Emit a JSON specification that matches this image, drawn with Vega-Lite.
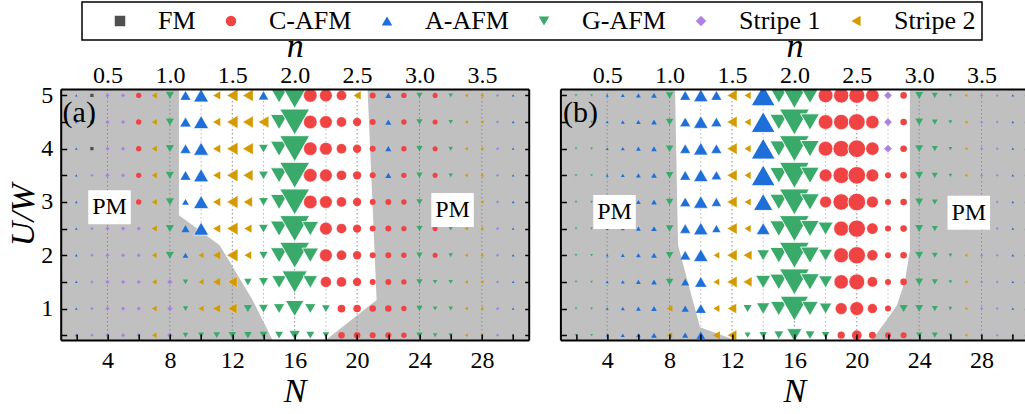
{
"$schema": "https://vega.github.io/schema/vega-lite/v6.json",
"autosize": {"type": "none"},
"padding": {"left": 60.7, "top": 89, "right": 964.3, "bottom": 325},
"bounds": "flush",
"spacing": 31.7,
"config": {
  "font": "Liberation Serif",
  "view": {"fill": "#c0c0c0", "stroke": null},
  "axis": {"labelFont": "Liberation Serif", "titleFont": "Liberation Serif", "labelFontSize": 24, "titleFontSize": 34, "titleFontWeight": "normal", "titleFontStyle": "italic", "labelColor": "black", "titleColor": "black", "domainColor": "black", "tickColor": "black", "grid": false, "domainWidth": 2, "tickWidth": 1.5},
  "legend": {"orient": "none", "legendX": 21.3, "legendY": -87, "direction": "horizontal", "strokeColor": "black", "strokeWidth": 1.5, "padding": 6, "labelFont": "Liberation Serif", "labelFontSize": 26, "labelColor": "black", "labelOffset": 25, "columnPadding": 3, "symbolOffset": 19, "symbolSize": 110, "symbolStrokeWidth": 0}
},
"resolve": {"scale": {"color": "shared", "shape": "shared", "size": "shared", "strokeWidth": "shared"}, "legend": {"color": "shared", "shape": "shared"}},
"datasets": {
  "white": [
    {"p":"a","U":0.41,"L":14.58,"R":18.0},{"p":"a","U":1.16,"L":13.3,"R":21.25},{"p":"a","U":2.19,"L":11.19,"R":21.1},{"p":"a","U":2.75,"L":8.58,"R":21.02},{"p":"a","U":5.12,"L":8.58,"R":20.67},
    {"p":"b","U":0.41,"L":12.19,"R":20.97},{"p":"b","U":0.65,"L":9.95,"R":21.57},{"p":"b","U":0.74,"L":9.87,"R":21.8},{"p":"b","U":1.06,"L":9.57,"R":22.57},{"p":"b","U":1.53,"L":9.14,"R":23.1},{"p":"b","U":2.09,"L":8.63,"R":23.4},{"p":"b","U":2.19,"L":8.54,"R":23.4},{"p":"b","U":5.12,"L":8.35,"R":23.4}
  ],
  "grid": [
    {"n":0.25,"kind":"minor"},{"n":0.5,"kind":"major"},{"n":0.75,"kind":"minor"},{"n":1,"kind":"major"},{"n":1.25,"kind":"minor"},{"n":1.5,"kind":"major"},{"n":1.75,"kind":"minor"},{"n":2,"kind":"major"},{"n":2.25,"kind":"minor"},{"n":2.5,"kind":"major"},{"n":2.75,"kind":"minor"},{"n":3,"kind":"major"},{"n":3.25,"kind":"minor"},{"n":3.5,"kind":"major"},{"n":3.75,"kind":"minor"}
  ],
  "pm": [
    {"p":"a","N":4.13,"U":2.9,"label":"PM"},{"p":"a","N":26.12,"U":2.85,"label":"PM"},{"p":"b","N":4.47,"U":2.81,"label":"PM"},{"p":"b","N":27.18,"U":2.8,"label":"PM"}
  ],
  "tags": [
    {"p":"a","N":1.12,"U":4.67,"label":"(a)"},{"p":"b","N":1.17,"U":4.67,"label":"(b)"}
  ],
  "ptsA": [
{"U":5,"N":2,"ph":"A-AFM","m":0.9},{"U":5,"N":3,"ph":"FM","m":1.1},{"U":5,"N":4,"ph":"Stripe 1","m":1.4},{"U":5,"N":5,"ph":"Stripe 1","m":1.4},{"U":5,"N":6,"ph":"C-AFM","m":1.8},{"U":5,"N":7,"ph":"Stripe 2","m":2},{"U":5,"N":8,"ph":"G-AFM","m":2.8},{"U":5,"N":9,"ph":"A-AFM","m":3.5},{"U":5,"N":10,"ph":"A-AFM","m":5},{"U":5,"N":11,"ph":"Stripe 2","m":2.8},{"U":5,"N":12,"ph":"Stripe 2","m":4.3},{"U":5,"N":13,"ph":"Stripe 2","m":4},{"U":5,"N":14,"ph":"A-AFM","m":3.3},{"U":5,"N":15,"ph":"G-AFM","m":5.8},{"U":5,"N":16,"ph":"G-AFM","m":10},{"U":5,"N":17,"ph":"C-AFM","m":4.5},{"U":5,"N":18,"ph":"C-AFM","m":4.2},{"U":5,"N":19,"ph":"C-AFM","m":3.3},{"U":5,"N":20,"ph":"Stripe 2","m":2.8},{"U":5,"N":21,"ph":"C-AFM","m":2},{"U":5,"N":22,"ph":"A-AFM","m":2},{"U":5,"N":23,"ph":"C-AFM","m":1.8},{"U":5,"N":24,"ph":"G-AFM","m":2.1},{"U":5,"N":25,"ph":"C-AFM","m":1.7},{"U":5,"N":26,"ph":"G-AFM","m":1.5},{"U":5,"N":27,"ph":"Stripe 2","m":1.2},{"U":5,"N":28,"ph":"Stripe 2","m":1.2},{"U":5,"N":29,"ph":"Stripe 1","m":1.1},{"U":5,"N":30,"ph":"A-AFM","m":0.9},
{"U":4.5,"N":2,"ph":"A-AFM","m":0.9},{"U":4.5,"N":3,"ph":"FM","m":1.1},{"U":4.5,"N":4,"ph":"Stripe 1","m":1.4},{"U":4.5,"N":5,"ph":"Stripe 1","m":1.4},{"U":4.5,"N":6,"ph":"C-AFM","m":1.8},{"U":4.5,"N":7,"ph":"Stripe 2","m":2},{"U":4.5,"N":8,"ph":"G-AFM","m":2.8},{"U":4.5,"N":9,"ph":"A-AFM","m":3.7},{"U":4.5,"N":10,"ph":"A-AFM","m":5},{"U":4.5,"N":11,"ph":"Stripe 2","m":2.8},{"U":4.5,"N":12,"ph":"Stripe 2","m":4.3},{"U":4.5,"N":13,"ph":"Stripe 2","m":4},{"U":4.5,"N":14,"ph":"Stripe 2","m":4},{"U":4.5,"N":15,"ph":"G-AFM","m":5.8},{"U":4.5,"N":16,"ph":"G-AFM","m":10},{"U":4.5,"N":17,"ph":"C-AFM","m":4.5},{"U":4.5,"N":18,"ph":"C-AFM","m":4.2},{"U":4.5,"N":19,"ph":"C-AFM","m":3.3},{"U":4.5,"N":20,"ph":"C-AFM","m":2.8},{"U":4.5,"N":21,"ph":"C-AFM","m":2},{"U":4.5,"N":22,"ph":"A-AFM","m":2},{"U":4.5,"N":23,"ph":"C-AFM","m":1.8},{"U":4.5,"N":24,"ph":"G-AFM","m":2.1},{"U":4.5,"N":25,"ph":"C-AFM","m":1.7},{"U":4.5,"N":26,"ph":"G-AFM","m":1.5},{"U":4.5,"N":27,"ph":"Stripe 2","m":1.2},{"U":4.5,"N":28,"ph":"Stripe 2","m":1.2},{"U":4.5,"N":29,"ph":"Stripe 1","m":1.1},{"U":4.5,"N":30,"ph":"A-AFM","m":0.9},
{"U":4,"N":2,"ph":"A-AFM","m":0.9},{"U":4,"N":3,"ph":"FM","m":1.1},{"U":4,"N":4,"ph":"Stripe 1","m":1.4},{"U":4,"N":5,"ph":"Stripe 1","m":1.4},{"U":4,"N":6,"ph":"C-AFM","m":1.8},{"U":4,"N":7,"ph":"Stripe 2","m":2},{"U":4,"N":8,"ph":"G-AFM","m":2.8},{"U":4,"N":9,"ph":"A-AFM","m":3.5},{"U":4,"N":10,"ph":"A-AFM","m":5},{"U":4,"N":11,"ph":"Stripe 2","m":2.8},{"U":4,"N":12,"ph":"Stripe 2","m":4.3},{"U":4,"N":13,"ph":"Stripe 2","m":4},{"U":4,"N":14,"ph":"G-AFM","m":3},{"U":4,"N":15,"ph":"G-AFM","m":5.8},{"U":4,"N":16,"ph":"G-AFM","m":10},{"U":4,"N":17,"ph":"C-AFM","m":4.5},{"U":4,"N":18,"ph":"C-AFM","m":4.2},{"U":4,"N":19,"ph":"C-AFM","m":3.3},{"U":4,"N":20,"ph":"C-AFM","m":2.8},{"U":4,"N":21,"ph":"C-AFM","m":2},{"U":4,"N":22,"ph":"A-AFM","m":2},{"U":4,"N":23,"ph":"C-AFM","m":1.8},{"U":4,"N":24,"ph":"G-AFM","m":2.1},{"U":4,"N":25,"ph":"C-AFM","m":1.7},{"U":4,"N":26,"ph":"G-AFM","m":1.5},{"U":4,"N":27,"ph":"Stripe 2","m":1.2},{"U":4,"N":28,"ph":"Stripe 2","m":1.2},{"U":4,"N":29,"ph":"Stripe 1","m":1.1},{"U":4,"N":30,"ph":"A-AFM","m":0.9},
{"U":3.5,"N":2,"ph":"A-AFM","m":0.9},{"U":3.5,"N":3,"ph":"Stripe 1","m":1.1},{"U":3.5,"N":4,"ph":"Stripe 1","m":1.4},{"U":3.5,"N":5,"ph":"Stripe 1","m":1.4},{"U":3.5,"N":6,"ph":"C-AFM","m":1.8},{"U":3.5,"N":7,"ph":"Stripe 2","m":2},{"U":3.5,"N":8,"ph":"G-AFM","m":2.8},{"U":3.5,"N":9,"ph":"A-AFM","m":3.5},{"U":3.5,"N":10,"ph":"A-AFM","m":5},{"U":3.5,"N":11,"ph":"Stripe 2","m":2.8},{"U":3.5,"N":12,"ph":"Stripe 2","m":4.3},{"U":3.5,"N":13,"ph":"Stripe 2","m":3.8},{"U":3.5,"N":14,"ph":"G-AFM","m":3},{"U":3.5,"N":15,"ph":"G-AFM","m":5.8},{"U":3.5,"N":16,"ph":"G-AFM","m":10},{"U":3.5,"N":17,"ph":"C-AFM","m":4.5},{"U":3.5,"N":18,"ph":"C-AFM","m":4.2},{"U":3.5,"N":19,"ph":"C-AFM","m":3.3},{"U":3.5,"N":20,"ph":"C-AFM","m":2.8},{"U":3.5,"N":21,"ph":"C-AFM","m":2},{"U":3.5,"N":22,"ph":"A-AFM","m":2},{"U":3.5,"N":23,"ph":"C-AFM","m":1.8},{"U":3.5,"N":24,"ph":"G-AFM","m":2.1},{"U":3.5,"N":25,"ph":"C-AFM","m":1.7},{"U":3.5,"N":26,"ph":"G-AFM","m":1.5},{"U":3.5,"N":27,"ph":"Stripe 2","m":1.2},{"U":3.5,"N":28,"ph":"Stripe 2","m":1.2},{"U":3.5,"N":29,"ph":"Stripe 1","m":1.1},{"U":3.5,"N":30,"ph":"A-AFM","m":0.9},
{"U":3,"N":2,"ph":"A-AFM","m":0.9},{"U":3,"N":3,"ph":"Stripe 1","m":1.1},{"U":3,"N":4,"ph":"Stripe 1","m":1.4},{"U":3,"N":5,"ph":"Stripe 1","m":1.4},{"U":3,"N":6,"ph":"C-AFM","m":1.8},{"U":3,"N":7,"ph":"Stripe 2","m":2},{"U":3,"N":8,"ph":"G-AFM","m":2.8},{"U":3,"N":9,"ph":"A-AFM","m":2.2},{"U":3,"N":10,"ph":"A-AFM","m":5},{"U":3,"N":11,"ph":"Stripe 2","m":2.8},{"U":3,"N":12,"ph":"Stripe 2","m":4.3},{"U":3,"N":13,"ph":"Stripe 2","m":3.3},{"U":3,"N":14,"ph":"G-AFM","m":3},{"U":3,"N":15,"ph":"G-AFM","m":5.8},{"U":3,"N":16,"ph":"G-AFM","m":10},{"U":3,"N":17,"ph":"C-AFM","m":4.5},{"U":3,"N":18,"ph":"C-AFM","m":4.2},{"U":3,"N":19,"ph":"C-AFM","m":3.3},{"U":3,"N":20,"ph":"C-AFM","m":2.8},{"U":3,"N":21,"ph":"C-AFM","m":2},{"U":3,"N":22,"ph":"C-AFM","m":2},{"U":3,"N":23,"ph":"C-AFM","m":1.8},{"U":3,"N":24,"ph":"G-AFM","m":2.1},{"U":3,"N":25,"ph":"C-AFM","m":1.7},{"U":3,"N":26,"ph":"G-AFM","m":1.5},{"U":3,"N":27,"ph":"Stripe 2","m":1.2},{"U":3,"N":28,"ph":"Stripe 2","m":1.2},{"U":3,"N":29,"ph":"Stripe 1","m":1.1},{"U":3,"N":30,"ph":"A-AFM","m":0.9},
{"U":2.5,"N":2,"ph":"A-AFM","m":0.9},{"U":2.5,"N":3,"ph":"Stripe 1","m":1.1},{"U":2.5,"N":4,"ph":"Stripe 1","m":1.4},{"U":2.5,"N":5,"ph":"Stripe 1","m":1.4},{"U":2.5,"N":6,"ph":"Stripe 1","m":1.4},{"U":2.5,"N":7,"ph":"Stripe 2","m":2},{"U":2.5,"N":8,"ph":"G-AFM","m":2.8},{"U":2.5,"N":9,"ph":"A-AFM","m":2.7},{"U":2.5,"N":10,"ph":"A-AFM","m":5},{"U":2.5,"N":11,"ph":"Stripe 2","m":2.8},{"U":2.5,"N":12,"ph":"Stripe 2","m":4.3},{"U":2.5,"N":13,"ph":"Stripe 2","m":2.8},{"U":2.5,"N":14,"ph":"G-AFM","m":3},{"U":2.5,"N":15,"ph":"G-AFM","m":5.8},{"U":2.5,"N":16,"ph":"G-AFM","m":10},{"U":2.5,"N":17,"ph":"G-AFM","m":5.5},{"U":2.5,"N":18,"ph":"C-AFM","m":4.2},{"U":2.5,"N":19,"ph":"C-AFM","m":3.3},{"U":2.5,"N":20,"ph":"C-AFM","m":2.8},{"U":2.5,"N":21,"ph":"C-AFM","m":2},{"U":2.5,"N":22,"ph":"C-AFM","m":2},{"U":2.5,"N":23,"ph":"C-AFM","m":1.8},{"U":2.5,"N":24,"ph":"G-AFM","m":2.1},{"U":2.5,"N":25,"ph":"C-AFM","m":1.7},{"U":2.5,"N":26,"ph":"G-AFM","m":1.5},{"U":2.5,"N":27,"ph":"Stripe 2","m":1.2},{"U":2.5,"N":28,"ph":"Stripe 2","m":1.2},{"U":2.5,"N":29,"ph":"Stripe 1","m":1.1},{"U":2.5,"N":30,"ph":"A-AFM","m":0.9},
{"U":2,"N":2,"ph":"A-AFM","m":0.9},{"U":2,"N":3,"ph":"Stripe 1","m":1.1},{"U":2,"N":4,"ph":"Stripe 1","m":1.4},{"U":2,"N":5,"ph":"Stripe 1","m":1.4},{"U":2,"N":6,"ph":"Stripe 1","m":1.4},{"U":2,"N":7,"ph":"Stripe 2","m":1.8},{"U":2,"N":8,"ph":"G-AFM","m":2.8},{"U":2,"N":9,"ph":"A-AFM","m":1.9},{"U":2,"N":10,"ph":"Stripe 2","m":1.9},{"U":2,"N":11,"ph":"Stripe 2","m":2.8},{"U":2,"N":12,"ph":"Stripe 2","m":4.3},{"U":2,"N":13,"ph":"Stripe 2","m":2.6},{"U":2,"N":14,"ph":"G-AFM","m":2.8},{"U":2,"N":15,"ph":"G-AFM","m":5.8},{"U":2,"N":16,"ph":"G-AFM","m":10},{"U":2,"N":17,"ph":"G-AFM","m":5.5},{"U":2,"N":18,"ph":"C-AFM","m":4.2},{"U":2,"N":19,"ph":"C-AFM","m":3.3},{"U":2,"N":20,"ph":"C-AFM","m":2.8},{"U":2,"N":21,"ph":"C-AFM","m":2},{"U":2,"N":22,"ph":"C-AFM","m":2},{"U":2,"N":23,"ph":"C-AFM","m":1.8},{"U":2,"N":24,"ph":"G-AFM","m":2.1},{"U":2,"N":25,"ph":"C-AFM","m":1.7},{"U":2,"N":26,"ph":"G-AFM","m":1.5},{"U":2,"N":27,"ph":"Stripe 2","m":1.2},{"U":2,"N":28,"ph":"Stripe 2","m":1.2},{"U":2,"N":29,"ph":"Stripe 1","m":1.1},{"U":2,"N":30,"ph":"A-AFM","m":0.9},
{"U":1.5,"N":2,"ph":"A-AFM","m":0.9},{"U":1.5,"N":3,"ph":"Stripe 1","m":1.1},{"U":1.5,"N":4,"ph":"Stripe 1","m":1.4},{"U":1.5,"N":5,"ph":"Stripe 1","m":1.4},{"U":1.5,"N":6,"ph":"Stripe 1","m":1.4},{"U":1.5,"N":7,"ph":"Stripe 2","m":1.8},{"U":1.5,"N":8,"ph":"Stripe 1","m":1.8},{"U":1.5,"N":9,"ph":"G-AFM","m":1.8},{"U":1.5,"N":10,"ph":"Stripe 2","m":1.9},{"U":1.5,"N":11,"ph":"Stripe 2","m":2.7},{"U":1.5,"N":12,"ph":"Stripe 2","m":3.7},{"U":1.5,"N":13,"ph":"G-AFM","m":2.5},{"U":1.5,"N":14,"ph":"G-AFM","m":3},{"U":1.5,"N":15,"ph":"G-AFM","m":4.8},{"U":1.5,"N":16,"ph":"G-AFM","m":8.5},{"U":1.5,"N":17,"ph":"G-AFM","m":4.8},{"U":1.5,"N":18,"ph":"C-AFM","m":3.6},{"U":1.5,"N":19,"ph":"C-AFM","m":3.3},{"U":1.5,"N":20,"ph":"C-AFM","m":2.8},{"U":1.5,"N":21,"ph":"C-AFM","m":2},{"U":1.5,"N":22,"ph":"C-AFM","m":2},{"U":1.5,"N":23,"ph":"C-AFM","m":1.8},{"U":1.5,"N":24,"ph":"G-AFM","m":2.1},{"U":1.5,"N":25,"ph":"G-AFM","m":1.5},{"U":1.5,"N":26,"ph":"G-AFM","m":1.5},{"U":1.5,"N":27,"ph":"Stripe 2","m":1.2},{"U":1.5,"N":28,"ph":"Stripe 2","m":1.2},{"U":1.5,"N":29,"ph":"Stripe 1","m":1.1},{"U":1.5,"N":30,"ph":"A-AFM","m":0.9},
{"U":1,"N":2,"ph":"A-AFM","m":0.9},{"U":1,"N":3,"ph":"Stripe 1","m":1.1},{"U":1,"N":4,"ph":"Stripe 1","m":1.4},{"U":1,"N":5,"ph":"Stripe 1","m":1.4},{"U":1,"N":6,"ph":"Stripe 1","m":1.4},{"U":1,"N":7,"ph":"Stripe 2","m":1.8},{"U":1,"N":8,"ph":"Stripe 1","m":1.8},{"U":1,"N":9,"ph":"G-AFM","m":1.8},{"U":1,"N":10,"ph":"Stripe 2","m":1.9},{"U":1,"N":11,"ph":"Stripe 2","m":2.7},{"U":1,"N":12,"ph":"Stripe 2","m":3.5},{"U":1,"N":13,"ph":"G-AFM","m":2.8},{"U":1,"N":14,"ph":"G-AFM","m":3},{"U":1,"N":15,"ph":"G-AFM","m":3.5},{"U":1,"N":16,"ph":"G-AFM","m":6.2},{"U":1,"N":17,"ph":"G-AFM","m":3.5},{"U":1,"N":18,"ph":"G-AFM","m":2.6},{"U":1,"N":19,"ph":"C-AFM","m":2.6},{"U":1,"N":20,"ph":"C-AFM","m":2.5},{"U":1,"N":21,"ph":"C-AFM","m":2.2},{"U":1,"N":22,"ph":"C-AFM","m":2.2},{"U":1,"N":23,"ph":"C-AFM","m":1.8},{"U":1,"N":24,"ph":"G-AFM","m":2.1},{"U":1,"N":25,"ph":"G-AFM","m":1.5},{"U":1,"N":26,"ph":"G-AFM","m":1.5},{"U":1,"N":27,"ph":"Stripe 2","m":1.2},{"U":1,"N":28,"ph":"Stripe 2","m":1.2},{"U":1,"N":29,"ph":"Stripe 1","m":1.1},{"U":1,"N":30,"ph":"A-AFM","m":0.9},
{"U":0.5,"N":2,"ph":"A-AFM","m":0.9},{"U":0.5,"N":3,"ph":"Stripe 1","m":1.1},{"U":0.5,"N":4,"ph":"Stripe 1","m":1.4},{"U":0.5,"N":5,"ph":"Stripe 1","m":1.4},{"U":0.5,"N":6,"ph":"Stripe 1","m":1.4},{"U":0.5,"N":7,"ph":"Stripe 2","m":1.8},{"U":0.5,"N":8,"ph":"Stripe 1","m":1.8},{"U":0.5,"N":9,"ph":"G-AFM","m":1.8},{"U":0.5,"N":10,"ph":"G-AFM","m":2},{"U":0.5,"N":11,"ph":"G-AFM","m":2.2},{"U":0.5,"N":12,"ph":"G-AFM","m":2.5},{"U":0.5,"N":13,"ph":"G-AFM","m":2.5},{"U":0.5,"N":14,"ph":"G-AFM","m":2.6},{"U":0.5,"N":15,"ph":"G-AFM","m":2.6},{"U":0.5,"N":16,"ph":"G-AFM","m":3.5},{"U":0.5,"N":17,"ph":"G-AFM","m":2.6},{"U":0.5,"N":18,"ph":"G-AFM","m":2.2},{"U":0.5,"N":19,"ph":"C-AFM","m":2.2},{"U":0.5,"N":20,"ph":"C-AFM","m":2.2},{"U":0.5,"N":21,"ph":"C-AFM","m":2},{"U":0.5,"N":22,"ph":"C-AFM","m":2},{"U":0.5,"N":23,"ph":"C-AFM","m":1.8},{"U":0.5,"N":24,"ph":"G-AFM","m":2.1},{"U":0.5,"N":25,"ph":"G-AFM","m":1.5},{"U":0.5,"N":26,"ph":"G-AFM","m":1.5},{"U":0.5,"N":27,"ph":"Stripe 2","m":1.2},{"U":0.5,"N":28,"ph":"Stripe 2","m":1.2},{"U":0.5,"N":29,"ph":"Stripe 1","m":1.1},{"U":0.5,"N":30,"ph":"A-AFM","m":0.9}
  ],
  "ptsB": [
{"U":5,"N":2,"ph":"G-AFM","m":0.9},{"U":5,"N":3,"ph":"G-AFM","m":0.9},{"U":5,"N":4,"ph":"A-AFM","m":1},{"U":5,"N":5,"ph":"A-AFM","m":1.3},{"U":5,"N":6,"ph":"A-AFM","m":1.6},{"U":5,"N":7,"ph":"A-AFM","m":1.9},{"U":5,"N":8,"ph":"G-AFM","m":2.5},{"U":5,"N":9,"ph":"A-AFM","m":3.5},{"U":5,"N":10,"ph":"A-AFM","m":4.8},{"U":5,"N":11,"ph":"A-AFM","m":3.5},{"U":5,"N":12,"ph":"Stripe 2","m":3.8},{"U":5,"N":13,"ph":"Stripe 2","m":2.4},{"U":5,"N":14,"ph":"A-AFM","m":8},{"U":5,"N":15,"ph":"G-AFM","m":6},{"U":5,"N":16,"ph":"G-AFM","m":10},{"U":5,"N":17,"ph":"G-AFM","m":6.3},{"U":5,"N":18,"ph":"C-AFM","m":4.9},{"U":5,"N":19,"ph":"C-AFM","m":5.1},{"U":5,"N":20,"ph":"C-AFM","m":5.3},{"U":5,"N":21,"ph":"C-AFM","m":4.4},{"U":5,"N":22,"ph":"Stripe 1","m":2.6},{"U":5,"N":23,"ph":"C-AFM","m":2.2},{"U":5,"N":24,"ph":"G-AFM","m":2.7},{"U":5,"N":25,"ph":"G-AFM","m":2},{"U":5,"N":26,"ph":"G-AFM","m":1.3},{"U":5,"N":27,"ph":"Stripe 2","m":1.1},{"U":5,"N":28,"ph":"Stripe 1","m":1.1},{"U":5,"N":29,"ph":"Stripe 1","m":1},{"U":5,"N":30,"ph":"A-AFM","m":0.9},
{"U":4.5,"N":2,"ph":"G-AFM","m":0.9},{"U":4.5,"N":3,"ph":"G-AFM","m":0.9},{"U":4.5,"N":4,"ph":"A-AFM","m":1},{"U":4.5,"N":5,"ph":"A-AFM","m":1.3},{"U":4.5,"N":6,"ph":"A-AFM","m":1.6},{"U":4.5,"N":7,"ph":"A-AFM","m":1.9},{"U":4.5,"N":8,"ph":"G-AFM","m":2.5},{"U":4.5,"N":9,"ph":"A-AFM","m":3.5},{"U":4.5,"N":10,"ph":"A-AFM","m":4.8},{"U":4.5,"N":11,"ph":"A-AFM","m":3.5},{"U":4.5,"N":12,"ph":"Stripe 2","m":3.8},{"U":4.5,"N":13,"ph":"Stripe 2","m":2.4},{"U":4.5,"N":14,"ph":"A-AFM","m":8},{"U":4.5,"N":15,"ph":"G-AFM","m":6},{"U":4.5,"N":16,"ph":"G-AFM","m":10},{"U":4.5,"N":17,"ph":"G-AFM","m":6.3},{"U":4.5,"N":18,"ph":"C-AFM","m":4.9},{"U":4.5,"N":19,"ph":"C-AFM","m":5.1},{"U":4.5,"N":20,"ph":"C-AFM","m":5.6},{"U":4.5,"N":21,"ph":"C-AFM","m":4.4},{"U":4.5,"N":22,"ph":"Stripe 1","m":2.6},{"U":4.5,"N":23,"ph":"C-AFM","m":2.2},{"U":4.5,"N":24,"ph":"G-AFM","m":2.7},{"U":4.5,"N":25,"ph":"G-AFM","m":2},{"U":4.5,"N":26,"ph":"G-AFM","m":1.3},{"U":4.5,"N":27,"ph":"Stripe 2","m":1.1},{"U":4.5,"N":28,"ph":"Stripe 1","m":1.1},{"U":4.5,"N":29,"ph":"Stripe 1","m":1},{"U":4.5,"N":30,"ph":"A-AFM","m":0.9},
{"U":4,"N":2,"ph":"G-AFM","m":0.9},{"U":4,"N":3,"ph":"G-AFM","m":0.9},{"U":4,"N":4,"ph":"A-AFM","m":1},{"U":4,"N":5,"ph":"A-AFM","m":1.3},{"U":4,"N":6,"ph":"A-AFM","m":1.6},{"U":4,"N":7,"ph":"A-AFM","m":1.9},{"U":4,"N":8,"ph":"G-AFM","m":2.5},{"U":4,"N":9,"ph":"A-AFM","m":3.5},{"U":4,"N":10,"ph":"A-AFM","m":4.8},{"U":4,"N":11,"ph":"A-AFM","m":3.5},{"U":4,"N":12,"ph":"Stripe 2","m":3.8},{"U":4,"N":13,"ph":"Stripe 2","m":2.4},{"U":4,"N":14,"ph":"A-AFM","m":8},{"U":4,"N":15,"ph":"G-AFM","m":6},{"U":4,"N":16,"ph":"G-AFM","m":10},{"U":4,"N":17,"ph":"G-AFM","m":6.3},{"U":4,"N":18,"ph":"C-AFM","m":4.9},{"U":4,"N":19,"ph":"C-AFM","m":5.5},{"U":4,"N":20,"ph":"C-AFM","m":5.9},{"U":4,"N":21,"ph":"C-AFM","m":4.4},{"U":4,"N":22,"ph":"Stripe 1","m":2.6},{"U":4,"N":23,"ph":"C-AFM","m":2.2},{"U":4,"N":24,"ph":"G-AFM","m":2.7},{"U":4,"N":25,"ph":"G-AFM","m":2},{"U":4,"N":26,"ph":"G-AFM","m":1.3},{"U":4,"N":27,"ph":"Stripe 2","m":1.1},{"U":4,"N":28,"ph":"Stripe 1","m":1.1},{"U":4,"N":29,"ph":"Stripe 1","m":1},{"U":4,"N":30,"ph":"A-AFM","m":0.9},
{"U":3.5,"N":2,"ph":"G-AFM","m":0.9},{"U":3.5,"N":3,"ph":"G-AFM","m":0.9},{"U":3.5,"N":4,"ph":"A-AFM","m":1},{"U":3.5,"N":5,"ph":"A-AFM","m":1.3},{"U":3.5,"N":6,"ph":"A-AFM","m":1.6},{"U":3.5,"N":7,"ph":"A-AFM","m":1.9},{"U":3.5,"N":8,"ph":"G-AFM","m":2.5},{"U":3.5,"N":9,"ph":"A-AFM","m":3.5},{"U":3.5,"N":10,"ph":"A-AFM","m":4.8},{"U":3.5,"N":11,"ph":"A-AFM","m":3.3},{"U":3.5,"N":12,"ph":"Stripe 2","m":3.8},{"U":3.5,"N":13,"ph":"Stripe 2","m":2.4},{"U":3.5,"N":14,"ph":"A-AFM","m":8},{"U":3.5,"N":15,"ph":"G-AFM","m":6},{"U":3.5,"N":16,"ph":"G-AFM","m":10},{"U":3.5,"N":17,"ph":"G-AFM","m":6.3},{"U":3.5,"N":18,"ph":"C-AFM","m":4.2},{"U":3.5,"N":19,"ph":"C-AFM","m":5.5},{"U":3.5,"N":20,"ph":"C-AFM","m":5.9},{"U":3.5,"N":21,"ph":"C-AFM","m":4.2},{"U":3.5,"N":22,"ph":"C-AFM","m":2},{"U":3.5,"N":23,"ph":"C-AFM","m":2.2},{"U":3.5,"N":24,"ph":"G-AFM","m":2.7},{"U":3.5,"N":25,"ph":"G-AFM","m":2},{"U":3.5,"N":26,"ph":"G-AFM","m":1.3},{"U":3.5,"N":27,"ph":"Stripe 2","m":1.1},{"U":3.5,"N":28,"ph":"Stripe 1","m":1.1},{"U":3.5,"N":29,"ph":"Stripe 1","m":1},{"U":3.5,"N":30,"ph":"A-AFM","m":0.9},
{"U":3,"N":2,"ph":"G-AFM","m":0.9},{"U":3,"N":3,"ph":"G-AFM","m":0.9},{"U":3,"N":4,"ph":"A-AFM","m":1},{"U":3,"N":5,"ph":"A-AFM","m":1.3},{"U":3,"N":6,"ph":"A-AFM","m":1.6},{"U":3,"N":7,"ph":"A-AFM","m":1.9},{"U":3,"N":8,"ph":"G-AFM","m":2.5},{"U":3,"N":9,"ph":"A-AFM","m":3.5},{"U":3,"N":10,"ph":"A-AFM","m":4.8},{"U":3,"N":11,"ph":"A-AFM","m":3.2},{"U":3,"N":12,"ph":"Stripe 2","m":3.8},{"U":3,"N":13,"ph":"Stripe 2","m":2.4},{"U":3,"N":14,"ph":"A-AFM","m":6.5},{"U":3,"N":15,"ph":"G-AFM","m":6},{"U":3,"N":16,"ph":"G-AFM","m":10},{"U":3,"N":17,"ph":"G-AFM","m":6.3},{"U":3,"N":18,"ph":"C-AFM","m":3.9},{"U":3,"N":19,"ph":"C-AFM","m":5.5},{"U":3,"N":20,"ph":"C-AFM","m":5.9},{"U":3,"N":21,"ph":"C-AFM","m":3.9},{"U":3,"N":22,"ph":"C-AFM","m":2},{"U":3,"N":23,"ph":"C-AFM","m":2.2},{"U":3,"N":24,"ph":"G-AFM","m":2.7},{"U":3,"N":25,"ph":"G-AFM","m":2},{"U":3,"N":26,"ph":"G-AFM","m":1.3},{"U":3,"N":27,"ph":"Stripe 2","m":1.1},{"U":3,"N":28,"ph":"Stripe 1","m":1.1},{"U":3,"N":29,"ph":"Stripe 1","m":1},{"U":3,"N":30,"ph":"A-AFM","m":0.9},
{"U":2.5,"N":2,"ph":"G-AFM","m":0.9},{"U":2.5,"N":3,"ph":"G-AFM","m":0.9},{"U":2.5,"N":4,"ph":"A-AFM","m":1},{"U":2.5,"N":5,"ph":"A-AFM","m":1.3},{"U":2.5,"N":6,"ph":"A-AFM","m":1.6},{"U":2.5,"N":7,"ph":"A-AFM","m":1.9},{"U":2.5,"N":8,"ph":"G-AFM","m":2.5},{"U":2.5,"N":9,"ph":"A-AFM","m":3.5},{"U":2.5,"N":10,"ph":"A-AFM","m":4.8},{"U":2.5,"N":11,"ph":"A-AFM","m":2.8},{"U":2.5,"N":12,"ph":"Stripe 2","m":3.8},{"U":2.5,"N":13,"ph":"Stripe 2","m":2.4},{"U":2.5,"N":14,"ph":"A-AFM","m":4.5},{"U":2.5,"N":15,"ph":"G-AFM","m":6},{"U":2.5,"N":16,"ph":"G-AFM","m":10},{"U":2.5,"N":17,"ph":"G-AFM","m":6.3},{"U":2.5,"N":18,"ph":"G-AFM","m":5},{"U":2.5,"N":19,"ph":"C-AFM","m":5},{"U":2.5,"N":20,"ph":"C-AFM","m":5.8},{"U":2.5,"N":21,"ph":"C-AFM","m":3.7},{"U":2.5,"N":22,"ph":"C-AFM","m":2},{"U":2.5,"N":23,"ph":"C-AFM","m":2.2},{"U":2.5,"N":24,"ph":"G-AFM","m":2.7},{"U":2.5,"N":25,"ph":"G-AFM","m":2},{"U":2.5,"N":26,"ph":"G-AFM","m":1.3},{"U":2.5,"N":27,"ph":"Stripe 2","m":1.1},{"U":2.5,"N":28,"ph":"Stripe 1","m":1.1},{"U":2.5,"N":29,"ph":"Stripe 1","m":1},{"U":2.5,"N":30,"ph":"A-AFM","m":0.9},
{"U":2,"N":2,"ph":"G-AFM","m":0.9},{"U":2,"N":3,"ph":"G-AFM","m":0.9},{"U":2,"N":4,"ph":"A-AFM","m":1},{"U":2,"N":5,"ph":"A-AFM","m":1.3},{"U":2,"N":6,"ph":"A-AFM","m":1.6},{"U":2,"N":7,"ph":"A-AFM","m":1.9},{"U":2,"N":8,"ph":"G-AFM","m":2.5},{"U":2,"N":9,"ph":"A-AFM","m":3.5},{"U":2,"N":10,"ph":"A-AFM","m":4.8},{"U":2,"N":11,"ph":"Stripe 2","m":2.2},{"U":2,"N":12,"ph":"Stripe 2","m":3.8},{"U":2,"N":13,"ph":"Stripe 2","m":3.2},{"U":2,"N":14,"ph":"G-AFM","m":4},{"U":2,"N":15,"ph":"G-AFM","m":6},{"U":2,"N":16,"ph":"G-AFM","m":10},{"U":2,"N":17,"ph":"G-AFM","m":6.3},{"U":2,"N":18,"ph":"G-AFM","m":4.5},{"U":2,"N":19,"ph":"C-AFM","m":5},{"U":2,"N":20,"ph":"C-AFM","m":5.8},{"U":2,"N":21,"ph":"C-AFM","m":3.6},{"U":2,"N":22,"ph":"C-AFM","m":2},{"U":2,"N":23,"ph":"C-AFM","m":2.2},{"U":2,"N":24,"ph":"G-AFM","m":2.7},{"U":2,"N":25,"ph":"G-AFM","m":2},{"U":2,"N":26,"ph":"G-AFM","m":1.3},{"U":2,"N":27,"ph":"Stripe 2","m":1.1},{"U":2,"N":28,"ph":"Stripe 1","m":1.1},{"U":2,"N":29,"ph":"Stripe 1","m":1},{"U":2,"N":30,"ph":"A-AFM","m":0.9},
{"U":1.5,"N":2,"ph":"G-AFM","m":0.9},{"U":1.5,"N":3,"ph":"G-AFM","m":0.9},{"U":1.5,"N":4,"ph":"A-AFM","m":1},{"U":1.5,"N":5,"ph":"A-AFM","m":1.3},{"U":1.5,"N":6,"ph":"A-AFM","m":1.6},{"U":1.5,"N":7,"ph":"A-AFM","m":1.9},{"U":1.5,"N":8,"ph":"G-AFM","m":2.5},{"U":1.5,"N":9,"ph":"A-AFM","m":2.7},{"U":1.5,"N":10,"ph":"A-AFM","m":4},{"U":1.5,"N":11,"ph":"Stripe 2","m":2.2},{"U":1.5,"N":12,"ph":"Stripe 2","m":3.8},{"U":1.5,"N":13,"ph":"Stripe 2","m":3.2},{"U":1.5,"N":14,"ph":"G-AFM","m":5},{"U":1.5,"N":15,"ph":"G-AFM","m":6},{"U":1.5,"N":16,"ph":"G-AFM","m":10},{"U":1.5,"N":17,"ph":"G-AFM","m":6.3},{"U":1.5,"N":18,"ph":"G-AFM","m":4.5},{"U":1.5,"N":19,"ph":"C-AFM","m":4.8},{"U":1.5,"N":20,"ph":"C-AFM","m":5.3},{"U":1.5,"N":21,"ph":"C-AFM","m":3.4},{"U":1.5,"N":22,"ph":"C-AFM","m":2},{"U":1.5,"N":23,"ph":"C-AFM","m":2.2},{"U":1.5,"N":24,"ph":"G-AFM","m":2.7},{"U":1.5,"N":25,"ph":"G-AFM","m":2},{"U":1.5,"N":26,"ph":"G-AFM","m":1.3},{"U":1.5,"N":27,"ph":"Stripe 2","m":1.1},{"U":1.5,"N":28,"ph":"Stripe 1","m":1.1},{"U":1.5,"N":29,"ph":"Stripe 1","m":1},{"U":1.5,"N":30,"ph":"A-AFM","m":0.9},
{"U":1,"N":2,"ph":"G-AFM","m":0.9},{"U":1,"N":3,"ph":"G-AFM","m":0.9},{"U":1,"N":4,"ph":"A-AFM","m":1},{"U":1,"N":5,"ph":"A-AFM","m":1.3},{"U":1,"N":6,"ph":"A-AFM","m":1.6},{"U":1,"N":7,"ph":"A-AFM","m":1.9},{"U":1,"N":8,"ph":"Stripe 2","m":2.2},{"U":1,"N":9,"ph":"A-AFM","m":2.4},{"U":1,"N":10,"ph":"A-AFM","m":3.5},{"U":1,"N":11,"ph":"Stripe 2","m":2.3},{"U":1,"N":12,"ph":"Stripe 2","m":3.3},{"U":1,"N":13,"ph":"G-AFM","m":2.7},{"U":1,"N":14,"ph":"G-AFM","m":4.3},{"U":1,"N":15,"ph":"G-AFM","m":5.5},{"U":1,"N":16,"ph":"G-AFM","m":9.5},{"U":1,"N":17,"ph":"G-AFM","m":5.5},{"U":1,"N":18,"ph":"G-AFM","m":4},{"U":1,"N":19,"ph":"C-AFM","m":3.9},{"U":1,"N":20,"ph":"C-AFM","m":4.6},{"U":1,"N":21,"ph":"C-AFM","m":3.2},{"U":1,"N":22,"ph":"C-AFM","m":2},{"U":1,"N":23,"ph":"G-AFM","m":2.8},{"U":1,"N":24,"ph":"G-AFM","m":2.7},{"U":1,"N":25,"ph":"G-AFM","m":2},{"U":1,"N":26,"ph":"G-AFM","m":1.3},{"U":1,"N":27,"ph":"Stripe 2","m":1.1},{"U":1,"N":28,"ph":"Stripe 1","m":1.1},{"U":1,"N":29,"ph":"Stripe 1","m":1},{"U":1,"N":30,"ph":"A-AFM","m":0.9},
{"U":0.5,"N":2,"ph":"G-AFM","m":0.9},{"U":0.5,"N":3,"ph":"G-AFM","m":0.9},{"U":0.5,"N":4,"ph":"A-AFM","m":1},{"U":0.5,"N":5,"ph":"A-AFM","m":1.3},{"U":0.5,"N":6,"ph":"A-AFM","m":1.6},{"U":0.5,"N":7,"ph":"A-AFM","m":1.9},{"U":0.5,"N":8,"ph":"Stripe 2","m":2},{"U":0.5,"N":9,"ph":"A-AFM","m":2},{"U":0.5,"N":10,"ph":"A-AFM","m":3},{"U":0.5,"N":11,"ph":"Stripe 2","m":2.7},{"U":0.5,"N":12,"ph":"Stripe 2","m":3.5},{"U":0.5,"N":13,"ph":"G-AFM","m":2},{"U":0.5,"N":14,"ph":"G-AFM","m":2.5},{"U":0.5,"N":15,"ph":"G-AFM","m":3},{"U":0.5,"N":16,"ph":"G-AFM","m":5},{"U":0.5,"N":17,"ph":"G-AFM","m":3},{"U":0.5,"N":18,"ph":"G-AFM","m":2.5},{"U":0.5,"N":19,"ph":"C-AFM","m":2.4},{"U":0.5,"N":20,"ph":"C-AFM","m":3.3},{"U":0.5,"N":21,"ph":"C-AFM","m":2.3},{"U":0.5,"N":22,"ph":"C-AFM","m":2},{"U":0.5,"N":23,"ph":"C-AFM","m":2},{"U":0.5,"N":24,"ph":"G-AFM","m":2},{"U":0.5,"N":25,"ph":"G-AFM","m":2},{"U":0.5,"N":26,"ph":"G-AFM","m":1.3},{"U":0.5,"N":27,"ph":"Stripe 2","m":1.1},{"U":0.5,"N":28,"ph":"Stripe 1","m":1.1},{"U":0.5,"N":29,"ph":"Stripe 1","m":1},{"U":0.5,"N":30,"ph":"A-AFM","m":0.9}
  ]
},
"hconcat": [
  {
    "width": 468, "height": 251,
    "resolve": {"scale": {"x": "independent"}, "axis": {"x": "independent", "y": "independent"}},
    "layer": [
      {"data": {"name": "white"}, "transform": [{"filter": "datum.p == 'a'"}],
       "mark": {"type": "area", "orient": "horizontal", "color": "white", "opacity": 1},
       "encoding": {
         "y": {"field": "U", "type": "quantitative", "scale": {"domain": [0.41, 5.12], "nice": false, "zero": false}, "axis": {"orient": "right", "values": [0.5,1,1.5,2,2.5,3,3.5,4,4.5,5], "labels": false, "tickSize": -4, "title": null, "zindex": 2}},
         "x": {"field": "L", "type": "quantitative", "scale": {"domain": [1, 31], "nice": false, "zero": false}, "axis": null},
         "x2": {"field": "R"}
       }},
      {"data": {"name": "grid"}, "transform": [{"filter": "datum.kind == 'minor'"}],
       "mark": {"type": "rule", "color": "#bdbdbd", "strokeDash": [1.5, 2.5], "strokeWidth": 1},
       "encoding": {"x": {"field": "n", "type": "quantitative", "scale": {"domain": [0.125, 3.875], "nice": false, "zero": false}, "axis": null}}},
      {"data": {"name": "grid"}, "transform": [{"filter": "datum.kind == 'major'"}],
       "mark": {"type": "rule", "color": "#8a8a8a", "strokeDash": [1.5, 2.5], "strokeWidth": 1},
       "encoding": {"x": {"field": "n", "type": "quantitative", "scale": {"domain": [0.125, 3.875], "nice": false, "zero": false}, "axis": {"orient": "top", "values": [0.5,1,1.5,2,2.5,3,3.5], "format": ".1f", "ticks": false, "labelPadding": 2, "title": "n", "titlePadding": 0, "zindex": 2}}}},
      {"data": {"name": "ptsA"},
       "mark": {"type": "point", "filled": true, "opacity": 1, "stroke": "white", "clip": true},
       "encoding": {
         "x": {"field": "N", "type": "quantitative", "scale": {"domain": [1, 31], "nice": false, "zero": false}, "axis": {"orient": "bottom", "values": [2,4,6,8,10,12,14,16,18,20,22,24,26,28,30], "labelExpr": "datum.value % 4 == 0 ? datum.label : ''", "tickSize": -6, "labelPadding": 14, "title": "N", "titlePadding": 2, "zindex": 2}},
         "y": {"field": "U", "type": "quantitative", "scale": {"domain": [0.41, 5.12], "nice": false, "zero": false}, "axis": {"orient": "left", "values": [0.5,1,1.5,2,2.5,3,3.5,4,4.5,5], "labelExpr": "datum.value % 1 == 0 ? format(datum.value, 'd') : ''", "tickSize": -6, "labelPadding": 14, "title": "U/W", "titlePadding": 0, "zindex": 2}},
         "color": {"field": "ph", "type": "nominal", "scale": {"domain": ["FM","C-AFM","A-AFM","G-AFM","Stripe 1","Stripe 2"], "range": ["#505050","#f04444","#1f6fd8","#3aaa6b","#ad80e2","#d49b00"]}, "legend": {"title": null, "orient": "none", "legendX": 21.3, "legendY": -87, "direction": "horizontal"}},
         "shape": {"field": "ph", "type": "nominal", "scale": {"domain": ["FM","C-AFM","A-AFM","G-AFM","Stripe 1","Stripe 2"], "range": ["square","circle","triangle-up","triangle-down","diamond","triangle-left"]}, "legend": {"title": null, "orient": "none", "legendX": 21.3, "legendY": -87, "direction": "horizontal"}},
         "size": {"field": "m", "type": "quantitative", "scale": {"type": "pow", "exponent": 2, "domain": [0, 10], "range": [0, 900]}, "legend": null},
         "strokeWidth": {"field": "m", "type": "quantitative", "scale": {"domain": [2.5, 6], "range": [0, 0.9], "clamp": true, "zero": false}, "legend": null}
       }},
      {"data": {"name": "pm"}, "transform": [{"filter": "datum.p == 'a'"}],
       "mark": {"type": "point", "shape": "M-1.25,-1H1.25V1H-1.25Z", "size": 1156, "filled": true, "color": "white", "opacity": 1, "strokeWidth": 0},
       "encoding": {
         "x": {"field": "N", "type": "quantitative", "scale": {"domain": [1, 31], "nice": false, "zero": false}, "axis": null},
         "y": {"field": "U", "type": "quantitative", "scale": {"domain": [0.41, 5.12], "nice": false, "zero": false}, "axis": null}
       }},
      {"data": {"name": "pm"}, "transform": [{"filter": "datum.p == 'a'"}],
       "mark": {"type": "text", "font": "Liberation Serif", "fontSize": 24, "align": "center", "baseline": "middle", "color": "black"},
       "encoding": {
         "x": {"field": "N", "type": "quantitative", "scale": {"domain": [1, 31], "nice": false, "zero": false}, "axis": null},
         "y": {"field": "U", "type": "quantitative", "scale": {"domain": [0.41, 5.12], "nice": false, "zero": false}, "axis": null},
         "text": {"field": "label"}
       }},
      {"data": {"name": "tags"}, "transform": [{"filter": "datum.p == 'a'"}],
       "mark": {"type": "text", "font": "Liberation Serif", "fontSize": 30, "align": "left", "baseline": "middle", "color": "black"},
       "encoding": {
         "x": {"field": "N", "type": "quantitative", "scale": {"domain": [1, 31], "nice": false, "zero": false}, "axis": null},
         "y": {"field": "U", "type": "quantitative", "scale": {"domain": [0.41, 5.12], "nice": false, "zero": false}, "axis": null},
         "text": {"field": "label"}
       }}
    ]
  },
  {
    "width": 468, "height": 251,
    "resolve": {"scale": {"x": "independent"}, "axis": {"x": "independent", "y": "independent"}},
    "layer": [
      {"data": {"name": "white"}, "transform": [{"filter": "datum.p == 'b'"}],
       "mark": {"type": "area", "orient": "horizontal", "color": "white", "opacity": 1},
       "encoding": {
         "y": {"field": "U", "type": "quantitative", "scale": {"domain": [0.41, 5.12], "nice": false, "zero": false}, "axis": {"orient": "right", "values": [0.5,1,1.5,2,2.5,3,3.5,4,4.5,5], "labels": false, "tickSize": -4, "title": null, "zindex": 2}},
         "x": {"field": "L", "type": "quantitative", "scale": {"domain": [1, 31], "nice": false, "zero": false}, "axis": null},
         "x2": {"field": "R"}
       }},
      {"data": {"name": "grid"}, "transform": [{"filter": "datum.kind == 'minor'"}],
       "mark": {"type": "rule", "color": "#bdbdbd", "strokeDash": [1.5, 2.5], "strokeWidth": 1},
       "encoding": {"x": {"field": "n", "type": "quantitative", "scale": {"domain": [0.125, 3.875], "nice": false, "zero": false}, "axis": null}}},
      {"data": {"name": "grid"}, "transform": [{"filter": "datum.kind == 'major'"}],
       "mark": {"type": "rule", "color": "#8a8a8a", "strokeDash": [1.5, 2.5], "strokeWidth": 1},
       "encoding": {"x": {"field": "n", "type": "quantitative", "scale": {"domain": [0.125, 3.875], "nice": false, "zero": false}, "axis": {"orient": "top", "values": [0.5,1,1.5,2,2.5,3,3.5], "format": ".1f", "ticks": false, "labelPadding": 2, "title": "n", "titlePadding": 0, "zindex": 2}}}},
      {"data": {"name": "ptsB"},
       "mark": {"type": "point", "filled": true, "opacity": 1, "stroke": "white", "clip": true},
       "encoding": {
         "x": {"field": "N", "type": "quantitative", "scale": {"domain": [1, 31], "nice": false, "zero": false}, "axis": {"orient": "bottom", "values": [2,4,6,8,10,12,14,16,18,20,22,24,26,28,30], "labelExpr": "datum.value % 4 == 0 ? datum.label : ''", "tickSize": -6, "labelPadding": 14, "title": "N", "titlePadding": 2, "zindex": 2}},
         "y": {"field": "U", "type": "quantitative", "scale": {"domain": [0.41, 5.12], "nice": false, "zero": false}, "axis": {"orient": "left", "values": [0.5,1,1.5,2,2.5,3,3.5,4,4.5,5], "labels": false, "tickSize": -6, "title": null, "zindex": 2}},
         "color": {"field": "ph", "type": "nominal", "scale": {"domain": ["FM","C-AFM","A-AFM","G-AFM","Stripe 1","Stripe 2"], "range": ["#505050","#f04444","#1f6fd8","#3aaa6b","#ad80e2","#d49b00"]}, "legend": {"title": null, "orient": "none", "legendX": 21.3, "legendY": -87, "direction": "horizontal"}},
         "shape": {"field": "ph", "type": "nominal", "scale": {"domain": ["FM","C-AFM","A-AFM","G-AFM","Stripe 1","Stripe 2"], "range": ["square","circle","triangle-up","triangle-down","diamond","triangle-left"]}, "legend": {"title": null, "orient": "none", "legendX": 21.3, "legendY": -87, "direction": "horizontal"}},
         "size": {"field": "m", "type": "quantitative", "scale": {"type": "pow", "exponent": 2, "domain": [0, 10], "range": [0, 900]}, "legend": null},
         "strokeWidth": {"field": "m", "type": "quantitative", "scale": {"domain": [2.5, 6], "range": [0, 0.9], "clamp": true, "zero": false}, "legend": null}
       }},
      {"data": {"name": "pm"}, "transform": [{"filter": "datum.p == 'b'"}],
       "mark": {"type": "point", "shape": "M-1.25,-1H1.25V1H-1.25Z", "size": 1156, "filled": true, "color": "white", "opacity": 1, "strokeWidth": 0},
       "encoding": {
         "x": {"field": "N", "type": "quantitative", "scale": {"domain": [1, 31], "nice": false, "zero": false}, "axis": null},
         "y": {"field": "U", "type": "quantitative", "scale": {"domain": [0.41, 5.12], "nice": false, "zero": false}, "axis": null}
       }},
      {"data": {"name": "pm"}, "transform": [{"filter": "datum.p == 'b'"}],
       "mark": {"type": "text", "font": "Liberation Serif", "fontSize": 24, "align": "center", "baseline": "middle", "color": "black"},
       "encoding": {
         "x": {"field": "N", "type": "quantitative", "scale": {"domain": [1, 31], "nice": false, "zero": false}, "axis": null},
         "y": {"field": "U", "type": "quantitative", "scale": {"domain": [0.41, 5.12], "nice": false, "zero": false}, "axis": null},
         "text": {"field": "label"}
       }},
      {"data": {"name": "tags"}, "transform": [{"filter": "datum.p == 'b'"}],
       "mark": {"type": "text", "font": "Liberation Serif", "fontSize": 30, "align": "left", "baseline": "middle", "color": "black"},
       "encoding": {
         "x": {"field": "N", "type": "quantitative", "scale": {"domain": [1, 31], "nice": false, "zero": false}, "axis": null},
         "y": {"field": "U", "type": "quantitative", "scale": {"domain": [0.41, 5.12], "nice": false, "zero": false}, "axis": null},
         "text": {"field": "label"}
       }}
    ]
  }
]
}
